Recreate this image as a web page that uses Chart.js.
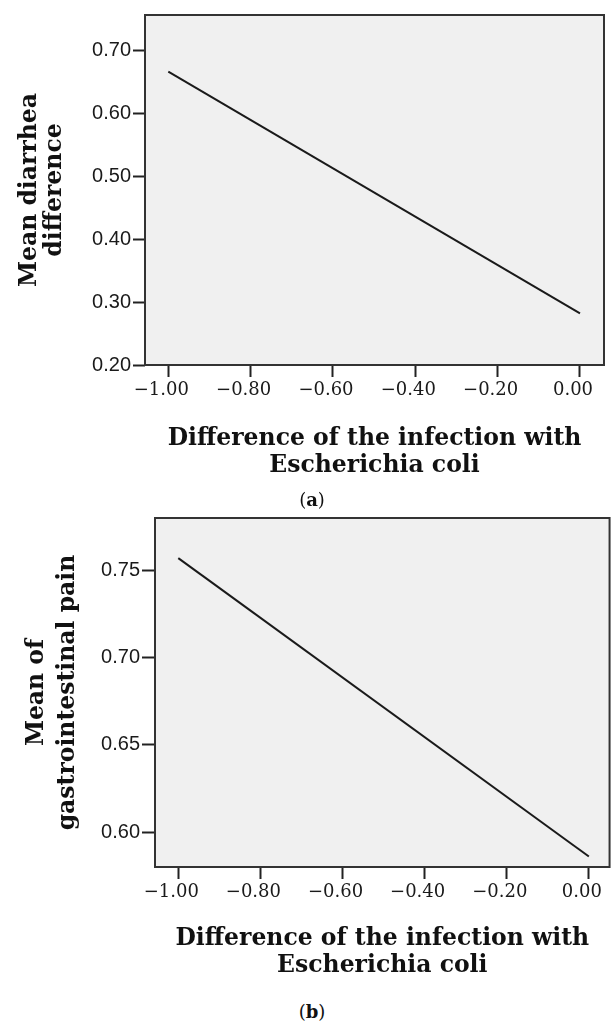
<!DOCTYPE html>
<html>
<head>
<meta charset="utf-8">
<script src="https://cdn.jsdelivr.net/npm/chart.js@4.4.1/dist/chart.umd.min.js"></script>
<style>
  html, body { margin: 0; padding: 0; background: #fff; }
  #page { position: relative; width: 612px; height: 1021px; overflow: hidden; }
  canvas { position: absolute; left: 0; }
  .cap {
    position: absolute; left: 0; width: 624px; text-align: center;
    font-family: 'DejaVu Serif', serif; font-size: 18px; color: #111;
  }
</style>
</head>
<body>
<div id="page">
  <canvas id="chart-a" width="612" height="480" style="top:0"></canvas>
  <canvas id="chart-b" width="612" height="490" style="top:490px"></canvas>
  <div class="cap" style="top:488px; line-height:24px">(<b>a</b>)</div>
  <div class="cap" style="top:1000px; line-height:24px">(<b>b</b>)</div>
</div>
<script>
// Data
const INFECTION_DIFF = [-1.00, 0.00];
const DIARRHEA_MEAN = [0.667, 0.282];
const GI_PAIN_MEAN = [0.757, 0.586];

const X_TICKS = [-1.00, -0.80, -0.60, -0.40, -0.20, 0.00];
const Y_TICKS_A = [0.20, 0.30, 0.40, 0.50, 0.60, 0.70];
const Y_TICKS_B = [0.60, 0.65, 0.70, 0.75];

const X_TITLE = ['Difference of the infection with', 'Escherichia coli'];
const Y_TITLE_A = ['Mean diarrhea', 'difference'];
const Y_TITLE_B = ['Mean of', 'gastrointestinal pain'];

const INK = '#1a1a1a';

// grey plot background + box around it
const plotFrame = {
  id: 'plotFrame',
  beforeDraw(chart) {
    const { ctx, chartArea: a } = chart;
    ctx.save();
    ctx.fillStyle = '#f0f0f0';
    ctx.fillRect(a.left, a.top, a.width, a.height);
    ctx.restore();
  },
  afterDraw(chart) {
    const { ctx, chartArea: a } = chart;
    ctx.save();
    ctx.strokeStyle = '#333';
    ctx.lineWidth = 2;
    ctx.strokeRect(a.left, a.top, a.width, a.height);
    ctx.restore();
  }
};

function fmtX(v) {
  const s = Math.abs(v).toFixed(2);
  return v < -1e-9 ? '\u2212' + s : s;
}

function makeChart(id, cfg) {
  const canvas = document.getElementById(id);
  const H = canvas.height;
  const points = INFECTION_DIFF.map((x, i) => ({ x: x, y: cfg.values[i] }));

  return new Chart(canvas.getContext('2d'), {
    type: 'line',
    data: {
      datasets: [{
        data: points,
        borderColor: INK,
        borderWidth: 2,
        pointRadius: 0,
        tension: 0
      }]
    },
    options: {
      responsive: false,
      animation: false,
      events: [],
      layout: { padding: { top: cfg.top, right: cfg.right, left: 0, bottom: 0 } },
      plugins: { legend: { display: false }, tooltip: { enabled: false } },
      scales: {
        x: {
          type: 'linear',
          min: cfg.xMin,
          max: cfg.xMax,
          afterBuildTicks: s => { s.ticks = X_TICKS.map(v => ({ value: v })); },
          afterFit: s => { s.height = H - cfg.bottom; },
          border: { display: false },
          grid: {
            drawOnChartArea: false,
            drawTicks: true,
            tickLength: 12,
            tickWidth: 2,
            tickColor: '#222'
          },
          ticks: {
            callback: v => fmtX(v),
            color: INK,
            padding: 3,
            labelOffset: -7,
            maxRotation: 0,
            font: { family: 'DejaVu Serif', size: 18 }
          },
          title: {
            display: true,
            text: X_TITLE,
            color: '#111',
            padding: { top: 0, bottom: 0 },
            font: { family: 'DejaVu Serif', size: 23.5, weight: 'bold', lineHeight: '27.5px' }
          }
        },
        y: {
          type: 'linear',
          min: cfg.yMin,
          max: cfg.yMax,
          afterBuildTicks: s => { s.ticks = cfg.yTicks.map(v => ({ value: v })); },
          afterFit: s => { s.width = cfg.left; },
          border: { display: false },
          grid: {
            drawOnChartArea: false,
            drawTicks: true,
            tickLength: cfg.tickLen,
            tickWidth: 2,
            tickColor: '#222'
          },
          ticks: {
            callback: v => v.toFixed(2),
            color: INK,
            padding: 2,
            font: { family: 'Liberation Sans', size: 20 }
          },
          title: {
            display: true,
            text: cfg.yTitle,
            color: '#111',
            padding: { top: cfg.titlePad, bottom: 0 },
            font: { family: 'DejaVu Serif', size: 23.5, weight: 'bold', lineHeight: cfg.titleLh }
          }
        }
      }
    },
    plugins: [plotFrame]
  });
}

makeChart('chart-a', {
  values: DIARRHEA_MEAN,
  yTicks: Y_TICKS_A,
  yTitle: Y_TITLE_A,
  xMin: -1.0566, xMax: 0.0583,
  yMin: 0.20, yMax: 0.757,
  left: 145, right: 8, top: 15, bottom: 365,
  tickLen: 12, titlePad: 17, titleLh: '25px'
});

makeChart('chart-b', {
  values: GI_PAIN_MEAN,
  yTicks: Y_TICKS_B,
  yTitle: Y_TITLE_B,
  xMin: -1.0567, xMax: 0.0504,
  yMin: 0.58, yMax: 0.78,
  left: 155, right: 2, top: 28, bottom: 377,
  tickLen: 13, titlePad: 21, titleLh: '31px'
});
</script>
</body>
</html>
